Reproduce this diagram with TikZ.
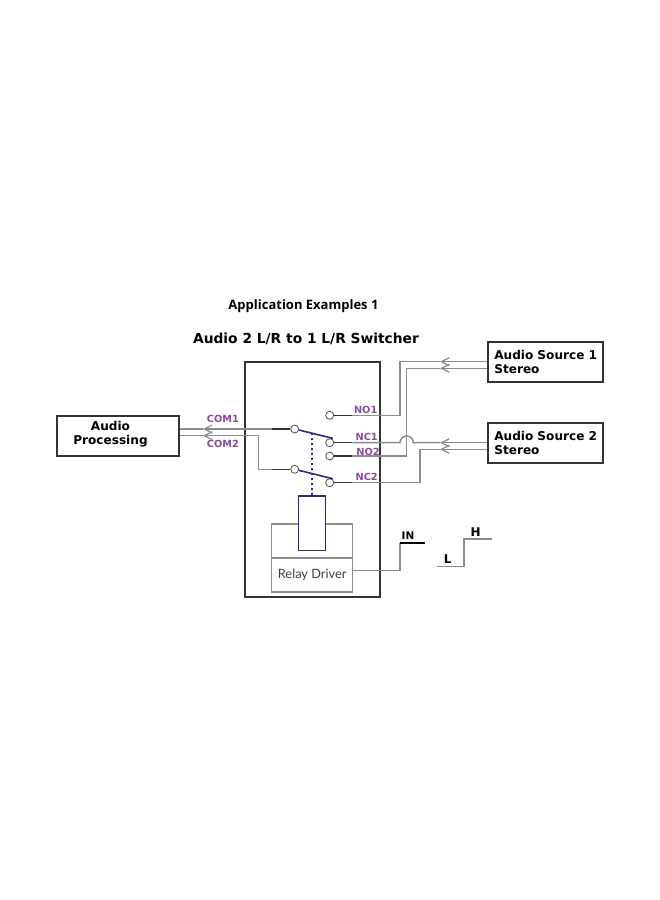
\documentclass[tikz,border=0pt]{standalone}
\usepackage{fontspec}
\usetikzlibrary{positioning,arrows.meta}
\setmainfont{DejaVu Sans}
\newfontfamily\titlefont{Open Sans}
\newfontfamily\driverfont{Lato}
\definecolor{pinlabel}{HTML}{8B4A9C}
\definecolor{wiregray}{HTML}{8C8C8C}
\definecolor{coilblue}{HTML}{2B2B7F}
\definecolor{framegray}{HTML}{333333}
\tikzset{
    unitbox/.style={draw=framegray,line width=1.8pt,rectangle,inner sep=0pt},
    boxtext/.style={font=\fontsize{12.1}{14}\selectfont\bfseries,align=left,inner sep=0pt},
    pin/.style={circle,draw=black!70,fill=white,line width=.8pt,minimum size=8pt,inner sep=0pt},
    pinname/.style={text=pinlabel,font=\fontsize{9.8}{11}\selectfont\bfseries,inner sep=0pt},
    wire/.style={draw=wiregray,line width=1.5pt},
    stub/.style={draw=black!80,line width=1.4pt},
    blade/.style={draw=coilblue,line width=1.6pt},
    flow/.style={wire,-{Straight Barb[length=8pt,width=8pt,line width=1.2pt]}},
    drvbox/.style={rectangle,draw=wiregray,line width=1.3pt,minimum width=81pt,inner sep=0pt},
    levelname/.style={font=\fontsize{10.5}{12}\selectfont\bfseries,inner sep=0pt}
}
\begin{document}
\begin{tikzpicture}[x=1pt,y=-1pt,on grid]
    \useasboundingbox[fill=white] (0,0) rectangle (660,900);

    \node[font=\titlefont\fontsize{13}{16}\selectfont\bfseries,inner sep=0pt] (title) at (303.5,306.5) {Application Examples 1};
    \node[font=\fontsize{13.8}{16}\selectfont\bfseries,inner sep=0pt,below=32pt of title,xshift=2.5pt] (subtitle) {Audio 2 L/R to 1 L/R Switcher};

    \node[unitbox,minimum width=135.3pt,minimum height=235.3pt] (relay) at (312.3,479.3) {};
    \node[unitbox,minimum width=122pt,minimum height=40pt] (proc) at (118.3,435.7) {};
    \node[boxtext,align=center] (proctext) at (110.5,434.5) {Audio\\Processing};
    \node[unitbox,minimum width=114.7pt,minimum height=40pt,text width=103.5pt,boxtext] (src1) at (545.3,361.7) {\hspace*{.8pt}Audio Source 1\\\hspace*{.8pt}Stereo};
    \node[unitbox,minimum width=114.7pt,minimum height=40pt,text width=103.5pt,boxtext,below=81pt of src1] (src2) {\hspace*{.8pt}Audio Source 2\\\hspace*{.8pt}Stereo};

    \node[pin] (no1) at (329.7,415.3) {};
    \node[pin,below=27.4pt of no1] (nc1) {};
    \node[pin,below=13.3pt of nc1] (no2) {};
    \node[pin,below=26.7pt of no2] (nc2) {};
    \node[pin] (com1) at (294.7,429) {};
    \node[pin,below=40.3pt of com1] (com2) {};

    \node[pinname] (lno1) at (365.7,410.3) {NO1};
    \node[pinname] (lnc1) at (366.7,437) {NC1};
    \node[pinname] (lno2) at (368,452.3) {NO2};
    \node[pinname] (lnc2) at (366.7,477) {NC2};
    \node[pinname] (lcom1) at (223,419.3) {COM1};
    \node[pinname] (lcom2) at (223,444) {COM2};

    \node[drvbox,minimum height=34pt,anchor=north,font=\driverfont\fontsize{12.8}{15}\selectfont,text=black!75] (driver) at (312.2,557.3) {\raisebox{3pt}{Relay Driver}};
    \node[drvbox,minimum height=34pt,above=34pt of driver] (drvtop) {};
    \node[rectangle,draw=coilblue,fill=white,line width=1.4pt,minimum width=27pt,minimum height=54.7pt,inner sep=0pt] (coil) at (312.2,523.3) {};

    \coordinate (nos1) at (352.3,415.3);
    \coordinate (ncs1) at (352.3,442.7);
    \coordinate (nos2) at (352.3,456);
    \coordinate (ncs2) at (352.3,482.7);
    \coordinate (cms1) at (271.7,429);
    \coordinate (cms2) at (271.7,469.3);
    \coordinate (end1) at (332.7,438.3);
    \coordinate (end2) at (332.7,478.7);
    \coordinate (mid1) at (312.2,434);

    \coordinate (tip1) at (440,361.7);
    \coordinate (tip2) at (440,368.3);
    \coordinate (tip3) at (440,442.7);
    \coordinate (tip4) at (440,449.3);
    \coordinate (tip5) at (203,429);
    \coordinate (tip6) at (203,435.7);

    \draw[flow] (src1.west |- tip1) -- (tip1);
    \draw[flow] (src1.west |- tip2) -- (tip2);
    \draw[flow] (src2.west |- tip3) -- (tip3);
    \draw[flow] (src2.west |- tip4) -- (tip4);
    \draw[flow] (cms1) -- (tip5);
    \draw[flow] (258.3,435.7) -- (tip6);

    \draw[wire] (tip1) -- (400,361.7) -- (400,415.3) -- (nos1);
    \draw[wire] (tip2) -- (406.7,368.3) -- (406.7,456) -- (nos2);
    \draw[wire] (tip3) -- (413.4,442.7) arc[start angle=0,end angle=-180,radius=6.7] -- (ncs1);
    \draw[wire] (tip4) -- (420,449.3) -- (420,482.7) -- (ncs2);
    \draw[wire] (tip5) -- (proc.east |- tip5);
    \draw[wire] (tip6) -- (proc.east |- tip6);
    \draw[wire] (tip6) -- (258.3,435.7) -- (258.3,469.3) -- (cms2);

    \draw[stub] (no1) -- (nos1);
    \draw[stub] (nc1) -- (ncs1);
    \draw[stub] (no2) -- (nos2);
    \draw[stub] (nc2) -- (ncs2);
    \draw[stub] (com1) -- (cms1);
    \draw[stub] (com2) -- (cms2);
    \draw[blade] (com1) -- (end1);
    \draw[blade] (com2) -- (end2);
    \draw[draw=coilblue,line width=1.6pt,dash pattern=on 2.5pt off 2.5pt] (coil.north) -- (mid1);

    \coordinate (out1) at (400,570.3);
    \coordinate (out2) at (400,543.3);
    \coordinate (out3) at (425,543.3);
    \draw[wire] (driver.east |- out1) -- (out1) -- (out2);
    \draw[stub,draw=black,line width=1.8pt] (out2) -- (out3);
    \node[levelname] (lin) at (408,536) {IN};

    \coordinate (lev1) at (436.7,566.3);
    \coordinate (lev2) at (464,566.3);
    \coordinate (lev3) at (464,539);
    \coordinate (lev4) at (491.7,539);
    \draw[wire] (lev1) -- (lev2) -- (lev3) -- (lev4);
    \node[levelname,font=\fontsize{12}{14}\selectfont\bfseries] (ll) at (447.7,559.6) {L};
    \node[levelname,font=\fontsize{12}{14}\selectfont\bfseries] (lh) at (475.7,531.7) {H};
\end{tikzpicture}
\end{document}
